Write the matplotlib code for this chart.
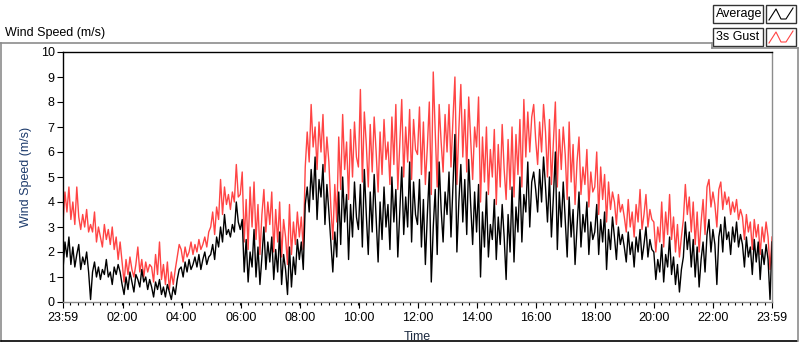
import numpy as np
import matplotlib
matplotlib.use("Agg")
import matplotlib.pyplot as plt
from matplotlib.patches import Rectangle
from matplotlib.lines import Line2D

# ============ DATA (one value every 4 minutes) ============
# minute 0 = 23:59 of the previous day, minute 1440 = 23:59

avg_by_hour = [
    [1.3, 2.4, 1.8, 2.6, 1.5, 2.2, 1.4, 1.9, 2.3, 1.3, 1.8, 1.5, 2.0, 1.2, 0.1],
    [1.2, 1.6, 1.0, 1.4, 0.9, 1.3, 1.1, 1.7, 1.0, 1.2, 0.7, 1.4, 1.1, 1.5, 1.2],
    [0.7, 0.3, 1.0, 0.5, 1.2, 0.8, 0.4, 1.1, 0.9, 0.6, 1.3, 0.8, 1.0, 0.5, 0.9],
    [0.6, 0.2, 0.8, 0.5, 0.9, 0.3, 0.6, 0.2, 0.7, 0.4, 0.1, 0.6, 0.3, 0.9, 1.3],
    [1.4, 1.0, 1.6, 1.2, 1.7, 1.3, 1.5, 1.8, 1.4, 1.9, 1.3, 1.7, 2.0, 1.5, 1.8],
    [1.9, 2.3, 1.7, 2.6, 2.2, 3.0, 2.4, 3.5, 2.7, 2.9, 2.6, 3.1, 2.8, 4.0, 3.2],
    [2.9, 3.3, 1.2, 2.5, 0.8, 2.0, 1.4, 2.9, 1.0, 2.2, 0.7, 1.8, 3.0, 1.3, 2.4],
    [1.6, 2.6, 0.9, 2.1, 1.2, 2.8, 0.7, 1.9, 1.3, 0.3, 2.2, 0.6, 1.8, 1.1, 2.5],
    [1.7, 2.4, 1.3, 3.9, 4.6, 3.6, 5.3, 4.1, 5.8, 3.3, 4.9, 4.2, 5.5, 3.1, 4.7],
    [3.6, 2.4, 1.2, 2.8, 1.8, 4.4, 2.3, 5.0, 3.2, 4.3, 1.7, 3.9, 2.6, 4.8, 3.4],
    [2.9, 4.7, 2.2, 5.3, 3.5, 1.9, 4.4, 2.8, 5.1, 3.3, 1.6, 4.0, 2.5, 4.6, 3.0],
    [3.9, 2.1, 5.0, 3.2, 4.5, 1.8, 3.6, 5.4, 2.7, 4.2, 3.0, 5.6, 2.4, 4.8, 3.5],
    [3.1, 4.9, 2.2, 4.1, 1.5, 3.5, 5.2, 0.8, 3.0, 4.5, 1.9, 5.6, 3.7, 2.4, 4.4],
    [3.5, 5.2, 2.6, 4.6, 6.7, 2.0, 4.0, 5.5, 3.2, 4.9, 2.7, 5.7, 3.9, 2.3, 4.4],
    [2.8, 4.7, 1.0, 3.6, 2.2, 4.4, 1.8, 3.1, 2.5, 4.1, 1.7, 3.4, 2.3, 3.9, 2.6],
    [0.9, 3.5, 2.0, 4.6, 1.6, 3.8, 2.8, 5.0, 2.4, 4.3, 3.6, 5.6, 3.0, 4.8, 5.2],
    [4.5, 3.6, 5.3, 4.0, 5.8, 4.6, 3.2, 5.0, 2.6, 4.2, 6.0, 2.1, 4.4, 3.0, 4.8],
    [3.3, 1.8, 4.2, 2.6, 3.7, 1.5, 3.0, 4.4, 2.2, 3.5, 2.8, 4.0, 1.9, 3.2, 2.5],
    [2.8, 3.9, 1.9, 3.3, 2.4, 3.6, 1.3, 2.9, 2.1, 3.4, 2.6, 1.7, 3.0, 2.3, 2.7],
    [2.2, 1.6, 2.8, 1.9, 2.4, 1.4, 2.6, 2.0, 2.9, 1.7, 2.3, 3.0, 1.8, 2.5, 2.1],
    [2.0, 0.9, 1.7, 1.2, 2.3, 0.8, 1.9, 1.4, 2.6, 1.1, 1.8, 0.7, 1.5, 0.4, 1.3],
    [1.8, 3.2, 2.1, 2.8, 1.4, 2.5, 1.0, 2.2, 0.6, 1.7, 2.4, 1.2, 2.7, 3.3, 2.0],
    [2.9, 2.3, 0.7, 2.6, 3.1, 2.0, 3.4, 2.5, 2.8, 1.9, 3.0, 2.4, 3.2, 2.2, 2.7],
    [2.3, 1.4, 2.6, 1.8, 2.2, 1.1, 2.5, 1.6, 2.4, 0.9, 2.1, 1.5, 2.3, 1.7, 0.1],
]
avg_last = 2.4

gust_by_hour = [
    [3.2, 4.4, 3.6, 4.6, 3.3, 4.0, 3.1, 4.6, 3.4, 2.9, 3.5, 3.0, 3.7, 2.8, 3.1],
    [2.8, 3.6, 2.4, 3.0, 2.6, 2.2, 3.1, 2.5, 2.9, 2.3, 3.0, 2.1, 2.6, 1.7, 2.4],
    [1.6, 0.8, 1.7, 1.1, 1.8, 1.3, 1.0, 1.5, 2.2, 1.2, 1.7, 1.0, 1.6, 1.2, 1.5],
    [1.4, 0.8, 1.9, 1.1, 2.4, 0.9, 1.5, 0.7, 1.6, 0.5, 1.2, 0.7, 1.3, 1.8, 2.3],
    [2.1, 1.6, 2.2, 1.8, 2.0, 2.4, 1.9, 2.3, 2.0, 2.5, 2.1, 2.3, 2.6, 2.2, 2.8],
    [3.0, 3.6, 2.7, 3.8, 3.3, 4.9, 3.5, 4.6, 3.9, 4.3, 3.7, 4.4, 4.0, 5.5, 4.2],
    [4.3, 5.2, 2.4, 4.1, 2.1, 4.6, 3.0, 4.8, 2.5, 3.9, 1.9, 3.5, 4.5, 2.8, 4.0],
    [3.1, 4.4, 2.0, 3.7, 2.4, 4.0, 1.8, 3.3, 2.6, 1.5, 3.9, 1.9, 3.2, 2.3, 3.6],
    [2.6, 3.4, 2.1, 5.4, 6.8, 5.6, 7.9, 6.2, 7.0, 5.3, 7.2, 6.0, 7.5, 5.2, 6.6],
    [5.6, 3.8, 2.5, 4.7, 3.2, 6.6, 4.5, 7.5, 5.3, 6.4, 4.1, 6.9, 5.0, 7.2, 5.8],
    [5.4, 8.5, 4.8, 7.6, 6.3, 4.6, 7.1, 5.2, 7.4, 6.0, 4.4, 6.8, 5.1, 7.3, 5.7],
    [6.4, 4.7, 7.4, 5.5, 7.9, 4.5, 6.3, 8.1, 5.0, 7.0, 5.6, 7.7, 4.9, 7.3, 6.1],
    [5.9, 7.8, 5.1, 7.2, 4.7, 6.2, 8.0, 4.3, 9.2, 6.8, 4.6, 7.9, 6.4, 5.2, 7.5],
    [6.0, 7.9, 5.4, 7.3, 9.0, 4.7, 6.9, 8.7, 5.8, 7.7, 5.2, 8.2, 6.5, 4.9, 7.0],
    [6.2, 8.2, 4.0, 6.6, 4.8, 7.0, 4.3, 6.1, 5.0, 6.9, 3.9, 6.3, 4.6, 7.1, 5.3],
    [4.1, 6.5, 4.5, 7.0, 4.2, 6.7, 5.1, 7.3, 4.6, 8.1, 5.8, 7.6, 6.0, 7.4, 7.9],
    [6.5, 5.5, 7.2, 6.0, 7.9, 6.8, 5.0, 7.3, 4.7, 6.4, 8.0, 4.6, 6.9, 5.3, 7.0],
    [5.9, 4.1, 7.2, 4.8, 6.3, 3.9, 5.6, 6.6, 4.3, 5.4, 4.7, 6.1, 3.8, 5.2, 4.4],
    [4.6, 6.0, 3.5, 5.4, 4.1, 5.1, 3.2, 4.8, 3.7, 4.4, 4.0, 3.1, 4.3, 3.6, 3.9],
    [3.4, 2.8, 4.1, 3.0, 3.6, 2.6, 3.9, 3.2, 4.5, 2.9, 3.5, 4.3, 3.0, 3.7, 3.3],
    [3.2, 2.0, 3.0, 2.4, 4.0, 2.2, 3.6, 2.7, 4.3, 2.5, 3.4, 2.0, 3.1, 1.8, 2.6],
    [3.3, 4.7, 3.5, 4.2, 2.8, 4.0, 2.3, 3.6, 2.0, 3.2, 4.1, 2.7, 4.6, 4.9, 3.8],
    [4.4, 3.9, 3.0, 4.5, 4.8, 3.7, 4.4, 3.9, 4.2, 3.5, 4.0, 3.6, 4.1, 3.3, 3.7],
    [3.4, 2.5, 3.5, 2.8, 3.2, 2.1, 3.3, 2.6, 3.1, 1.9, 3.0, 2.4, 3.2, 2.6, 1.3],
]
gust_last = 2.6

tick_minutes = [0, 121, 241, 361, 481, 601, 721, 841, 961, 1081, 1201, 1321, 1440]
tick_labels = ["23:59", "02:00", "04:00", "06:00", "08:00", "10:00", "12:00",
               "14:00", "16:00", "18:00", "20:00", "22:00", "23:59"]

avg = np.array([v for row in avg_by_hour for v in row] + [avg_last])
gust = np.array([v for row in gust_by_hour for v in row] + [gust_last])
minutes = np.arange(len(avg)) * 4

# ============ PLOT ============
plt.rcParams['font.family'] = ['Liberation Sans', 'DejaVu Sans']
RED = "#ff4444"
GREY = "#8c8c8c"

fig = plt.figure(figsize=(8, 3.42), dpi=100)
W, H = 800, 342

def fx(px):
    return px / W

def fy(py):
    return 1 - py / H

ax = fig.add_axes([fx(63), fy(302), fx(772) - fx(63), fy(52) - fy(302)])
ax.plot(minutes, gust, color=RED, lw=1.0)
ax.plot(minutes, avg, color="black", lw=1.0)

ax.set_xlim(0, 1440)
ax.set_ylim(0, 10)
ax.set_yticks(range(0, 11))
ax.set_xticks(tick_minutes)
ax.set_xticklabels(tick_labels)
ax.set_xticks(np.arange(15, 1440, 15), minor=True)
ax.tick_params(axis="both", which="major", labelsize=9, length=4, width=0.8,
               colors="black", pad=2)
ax.tick_params(axis="x", which="major", pad=3)
ax.tick_params(axis="x", which="minor", length=2, width=0.8)
ax.tick_params(axis="y", which="minor", length=0)
for s in ["left", "top"]:
    ax.spines[s].set_color("black")
for s in ["bottom", "right"]:
    ax.spines[s].set_color(GREY)
for s in ax.spines.values():
    s.set_linewidth(1.0)

ax.set_ylabel("Wind Speed (m/s)", color="#1c3a6b", fontsize=9, labelpad=6)
ax.set_xlabel("Time", color="#1c2a40", fontsize=9, labelpad=5)

# outer frame around the graph
frame_kw = dict(color=GREY, lw=1.2, transform=fig.transFigure)
fig.add_artist(Line2D([fx(0), fx(712)], [fy(42.5), fy(42.5)], **frame_kw))
fig.add_artist(Line2D([fx(1), fx(1)], [fy(42.5), fy(341)], **frame_kw))
fig.add_artist(Line2D([fx(1), fx(797)], [fy(341), fy(341)], color="black", lw=1.2,
                      transform=fig.transFigure))
fig.add_artist(Line2D([fx(797.5), fx(797.5)], [fy(48), fy(341)], **frame_kw))
fig.add_artist(Line2D([fx(712), fx(797.5)], [fy(48), fy(48)], **frame_kw))
fig.add_artist(Line2D([fx(712), fx(712)], [fy(42.5), fy(48)], **frame_kw))

fig.text(fx(5), fy(33), "Wind Speed (m/s)", fontsize=9, color="black", va="center")

# legend boxes
legend_rows = [("Average", "black", 14), ("3s Gust", RED, 37)]
for label, col, yc in legend_rows:
    fig.add_artist(Rectangle((fx(713), fy(yc + 9)), fx(50), fy(yc - 9) - fy(yc + 9),
                             facecolor="white", edgecolor="#333333", lw=1,
                             transform=fig.transFigure))
    fig.text(fx(716), fy(yc), label, fontsize=9, va="center", color="black")
    fig.add_artist(Rectangle((fx(766), fy(yc + 9)), fx(30), fy(yc - 9) - fy(yc + 9),
                             facecolor="white", edgecolor="#333333", lw=1,
                             transform=fig.transFigure))
    zx = [769, 776, 781, 786, 793]
    zy = [yc + 6, yc - 5, yc + 5, yc + 5, yc - 6]
    fig.add_artist(Line2D([fx(v) for v in zx], [fy(v) for v in zy], color=col,
                          lw=0.8, transform=fig.transFigure))

fig.savefig("out.png", dpi=100)
